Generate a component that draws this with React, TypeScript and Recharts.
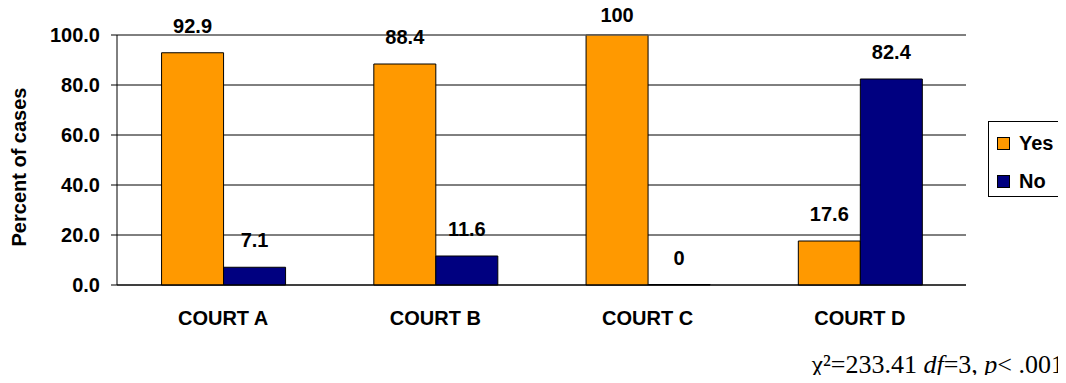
import React from "react";
import {
  BarChart,
  Bar,
  XAxis,
  YAxis,
  CartesianGrid,
  ReferenceLine,
  LabelList,
} from "recharts";

const categories = ["COURT A", "COURT B", "COURT C", "COURT D"];
const yesValues = [92.9, 88.4, 100, 17.6];
const noValues = [7.1, 11.6, 0, 82.4];
const yTicks = [0, 20, 40, 60, 80, 100];
const boundaryTicks = [0, 1, 2, 3, 4];

const series = [
  { key: "Yes", color: "#FF9900" },
  { key: "No", color: "#000080" },
];

const FONT = "'Liberation Sans', Arial, sans-serif";
const labelStyle = { fontFamily: FONT, fontSize: 20, fontWeight: 700, fill: "#000" };

// value label above the bar; kept inside the top of the picture like the original
const TopLabel = (props: any) => {
  const { x, y, width, value } = props;
  const base = Math.max(Number(y) - 20, 22);
  return (
    <text x={Number(x) + Number(width) / 2} y={base} textAnchor="middle" style={labelStyle}>
      {String(value)}
    </text>
  );
};

const YLabel = (props: any) => {
  const { x, y, height } = props.viewBox;
  const cx = x + 26;
  const cy = y + height / 2 + 7;
  return (
    <text
      x={cx}
      y={cy}
      transform={`rotate(-90, ${cx}, ${cy})`}
      textAnchor="middle"
      style={labelStyle}
    >
      Percent of cases
    </text>
  );
};

export default function App() {
  const chartData = categories.map((name, i) => ({
    name,
    Yes: yesValues[i],
    No: noValues[i],
  }));

  return (
    // cancel the body margin so chart pixels line up with the page
    <div style={{ position: "relative", width: 1066, height: 383, margin: "-8px 0 -8px -8px", fontFamily: FONT }}>
      <BarChart
        width={1066}
        height={383}
        data={chartData}
        margin={{ top: 35, right: 100, left: 0, bottom: 58 }}
        barCategoryGap="21%"
        barGap={0}
      >
        <CartesianGrid stroke="#000" vertical={false} />
        {/* second axis only for the tick marks between the groups */}
        <XAxis
          xAxisId="b"
          type="number"
          domain={[0, 4]}
          ticks={boundaryTicks}
          height={0}
          axisLine={false}
          tickLine={{ stroke: "#000" }}
          tickSize={6}
          tickFormatter={() => ""}
        />
        <XAxis
          dataKey="name"
          height={40}
          axisLine={{ stroke: "#000" }}
          tickLine={false}
          tickSize={0}
          tickMargin={26}
          tick={labelStyle}
        />
        <YAxis
          width={117}
          domain={[0, 100]}
          ticks={yTicks}
          tickFormatter={(v: number) => v.toFixed(1)}
          axisLine={{ stroke: "#000" }}
          tickLine={{ stroke: "#000" }}
          tickSize={6}
          tickMargin={11}
          tick={labelStyle}
          label={{ content: YLabel }}
        />
        <ReferenceLine y={100} stroke="#808080" />
        <ReferenceLine xAxisId="b" x={4} stroke="#808080" />
        {series.map((s) => (
          <Bar
            key={s.key}
            dataKey={s.key}
            fill={s.color}
            stroke="#000"
            strokeWidth={1}
            // zero bars get a hairline so their "0" label is still drawn (it sits on the axis)
            minPointSize={(v: number) => (v === 0 ? 0.5 : 0)}
            isAnimationActive={false}
          >
            <LabelList dataKey={s.key} content={TopLabel} />
          </Bar>
        ))}
      </BarChart>

      {/* Legend */}
      <div
        style={{
          position: "absolute",
          left: 988,
          top: 121,
          width: 76,
          height: 76,
          border: "1px solid #000",
          display: "flex",
          flexDirection: "column",
          justifyContent: "center",
          gap: 16,
          paddingLeft: 8,
          paddingTop: 6,
          boxSizing: "border-box",
          background: "#fff",
        }}
      >
        {series.map((s) => (
          <div key={s.key} style={{ display: "flex", alignItems: "center", gap: 9 }}>
            <span
              style={{
                width: 11,
                height: 11,
                background: s.color,
                border: "1px solid #000",
                display: "inline-block",
              }}
            ></span>
            <span style={{ fontSize: 20, fontWeight: 700, lineHeight: "22px" }}>{s.key}</span>
          </div>
        ))}
      </div>

      {/* Footnote */}
      <div
        style={{
          position: "absolute",
          right: 2,
          top: 350,
          fontFamily: "'Liberation Serif', 'Times New Roman', serif",
          fontSize: 26,
          lineHeight: "30px",
          whiteSpace: "nowrap",
        }}
      >
        χ²=233.41 <i>df</i>=3, <i>p</i>&lt; .001
      </div>
    </div>
  );
}
